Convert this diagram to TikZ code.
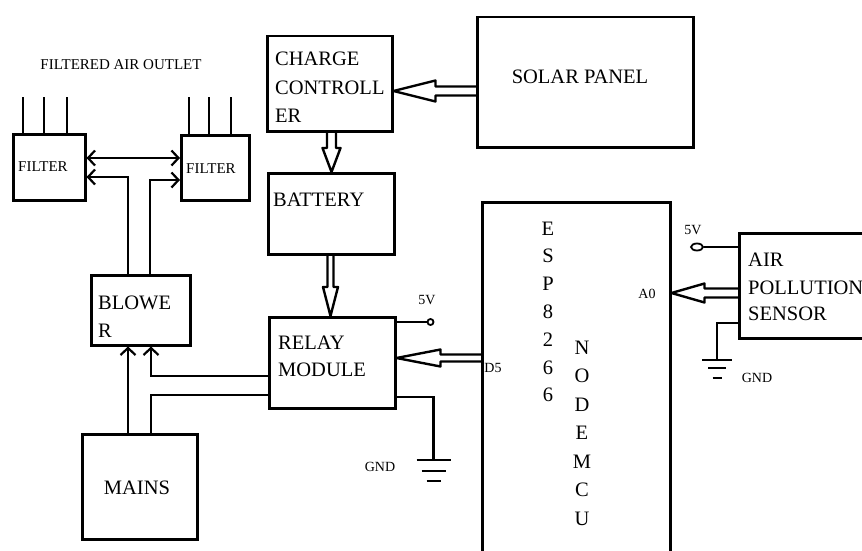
\documentclass[tikz,border=0pt]{standalone}
\usepackage{fontspec}
\setmainfont{Liberation Serif}
\usetikzlibrary{arrows.meta,calc,shapes.geometric}
\tikzset{
  blk/.style={draw, line width=2.5pt, inner sep=0pt, anchor=north west},
  wire/.style={line width=2.4pt},
  barb/.tip={Straight Barb[length=7pt,width=15pt,line width=2.2pt]},
  arr/.style={wire, -barb},
  big/.style={font=\fontsize{20.5}{24}\selectfont, inner sep=0pt},
  mid/.style={font=\fontsize{15}{18}\selectfont, inner sep=0pt},
  small/.style={font=\fontsize{14}{16}\selectfont, inner sep=0pt},
  term/.style={draw, ellipse, line width=1.8pt, fill=white, inner sep=0pt},
}
\newcommand\hollowL[5]{\draw[wire, line join=round] let \p1=(#1), \p2=(#2) in
  (\x1,\y2+#3pt) -- (\x2+#4pt,\y2+#3pt) -- (\x2+#4pt,\y2+#5pt) -- (\x2,\y2)
  -- (\x2+#4pt,\y2-#5pt) -- (\x2+#4pt,\y2-#3pt) -- (\x1,\y2-#3pt);}
\newcommand\hollowD[5]{\draw[wire, line join=round] let \p1=(#1), \p2=(#2) in
  (\x2-#3pt,\y1) -- (\x2-#3pt,\y2+#4pt) -- (\x2-#5pt,\y2+#4pt) -- (\x2,\y2)
  -- (\x2+#5pt,\y2+#4pt) -- (\x2+#3pt,\y2+#4pt) -- (\x2+#3pt,\y1);}
\begin{document}
\begin{tikzpicture}[x=1pt,y=-1pt]
\useasboundingbox (0,0) rectangle (862,551);
\fill[white] (0,0) rectangle (862,551);

% boxes
\node[blk, minimum width=72pt, minimum height=66pt] (lf) at (12,133) {};
\node[blk, minimum width=68pt, minimum height=65pt] (rf) at (180,134) {};
\node[blk, minimum width=99pt, minimum height=70pt] (bl) at (90,274) {};
\node[blk, minimum width=115pt, minimum height=105pt] (mains) at (81,433) {};
\node[blk, minimum width=126pt, minimum height=91pt] (relay) at (268,316) {};
\node[blk, minimum width=125pt, minimum height=95pt] (cc) at (266,35) {};
\node[blk, minimum width=216pt, minimum height=130pt] (solar) at (476,16) {};
\node[blk, minimum width=126pt, minimum height=81pt] (bat) at (267,172) {};
\node[blk, minimum width=188pt, minimum height=400pt] (esp) at (481,201) {};
\node[blk, minimum width=160pt, minimum height=105pt] (sens) at (738,232) {};

% texts
\node[mid, anchor=base] (outlet) at (121,70) {FILTERED AIR OUTLET};
\node[mid, anchor=base west] (lft) at (18,171) {FILTER};
\node[mid, anchor=base west] (rft) at (186,173) {FILTER};
\node[big, anchor=base west] (bl1) at (98,309) {BLOWE};
\node[big, anchor=base west] (bl2) at (98,337) {R};
\node[big, anchor=base] (mt) at (137,494) {MAINS};
\node[big, anchor=base west] (r1) at (278,349) {RELAY};
\node[big, anchor=base west] (r2) at (278,376) {MODULE};
\node[big, anchor=base west] (c1) at (275,66) {CHARGE};
\node[big, anchor=base west] (c2) at (275,94) {CONTROLL};
\node[big, anchor=base west] (c3) at (275,122) {ER};
\node[big, anchor=base] (st) at (580,84) {SOLAR PANEL};
\node[big, anchor=base west] (bt) at (273,206) {BATTERY};
\node[big, anchor=base west] (s1) at (748,266) {AIR};
\node[big, anchor=base west] (s2) at (748,294) {POLLUTION};
\node[big, anchor=base west] (s3) at (748,320) {SENSOR};
\foreach \c [count=\i from 0] in {E,S,P,8,2,6,6}
  \node[big, anchor=base] (esp\i) at (548,235+27.8*\i) {\c};
\foreach \c [count=\i from 0] in {N,O,D,E,M,C,U}
  \node[big, anchor=base] (nod\i) at (582,354+28.5*\i) {\c};
\node[small, anchor=base] (v5a) at (427,304) {5V};
\node[small, anchor=base] (v5b) at (693,234) {5V};
\node[small, anchor=base] (d5) at (493,372) {D5};
\node[small, anchor=base] (a0) at (647,298) {A0};
\node[small, anchor=base] (gnda) at (380,471) {GND};
\node[small, anchor=base] (gndb) at (757,382) {GND};

% outlet tines
\foreach \dx in {11,32,55} \draw[wire] ($(lf.north west)+(\dx,0)$) -- ++(0,-36);
\foreach \dx in {9,29,51} \draw[wire] ($(rf.north west)+(\dx,0)$) -- ++(0,-37);

% filter interconnect
\coordinate (fa) at ($(lf.north east)+(0,25)$);
\draw[wire, barb-barb] (fa) -- (fa -| rf.west);
\coordinate (b1) at ($(bl.north west)+(38,0)$);
\coordinate (b2) at ($(bl.north west)+(60,0)$);
\draw[arr] (b1) |- ($(lf.north east)+(0,44)$);
\draw[arr] (b2) |- ($(rf.north west)+(0,46)$);

% mains and relay to blower
\coordinate (m1) at ($(mains.north west)+(47,0)$);
\coordinate (m2) at ($(mains.north west)+(70,0)$);
\draw[arr] (m1) -- (m1 |- bl.south);
\draw[wire] (m2) |- ($(relay.north west)+(0,79)$);
\draw[arr] ($(relay.north west)+(0,60)$) -| (m2 |- bl.south);

% hollow arrows
\coordinate (sTip) at ($(cc.north east)+(0,56)$);
\hollowL{solar.west}{sTip}{4.5}{42}{10.5}
\coordinate (bTip) at ($(bat.north west)+(64.5,0)$);
\hollowD{cc.south}{bTip}{4.5}{24}{9}
\coordinate (rTip) at ($(relay.north west)+(62.5,0)$);
\hollowD{bat.south}{rTip}{3}{29}{7.5}
\coordinate (dTip) at ($(relay.north east)+(0,42)$);
\hollowL{esp.west}{dTip}{3.5}{44}{8.5}
\coordinate (aTip) at ($(esp.north east)+(0,92)$);
\hollowL{sens.west}{aTip}{4.5}{33}{9.5}

% relay 5V and GND
\node[term, minimum width=6pt, minimum height=6pt] (t1) at ($(relay.north east)+(34,6)$) {};
\draw[wire] ($(relay.north east)+(0,6)$) -- (t1.west);
\coordinate (g1) at ($(relay.north east)+(37,144)$);
\draw[wire] ($(relay.north east)+(0,81)$) -| (g1);
\draw[wire] ($(g1)+(-17,0)$) -- ++(34,0);
\draw[wire] ($(g1)+(-12,11)$) -- ++(24,0);
\draw[wire] ($(g1)+(-7,21)$) -- ++(14,0);

% sensor 5V and GND
\node[term, minimum width=12pt, minimum height=7pt] (t2) at ($(sens.north west)+(-41,15)$) {};
\draw[wire] ($(sens.north west)+(0,15)$) -- (t2.east);
\coordinate (g2) at ($(sens.north west)+(-21,128)$);
\draw[wire] ($(sens.north west)+(0,91)$) -| (g2);
\draw[wire] ($(g2)+(-15,0)$) -- ++(30,0);
\draw[wire] ($(g2)+(-9,8)$) -- ++(18,0);
\draw[wire] ($(g2)+(-4.5,18)$) -- ++(9,0);
\end{tikzpicture}
\end{document}
